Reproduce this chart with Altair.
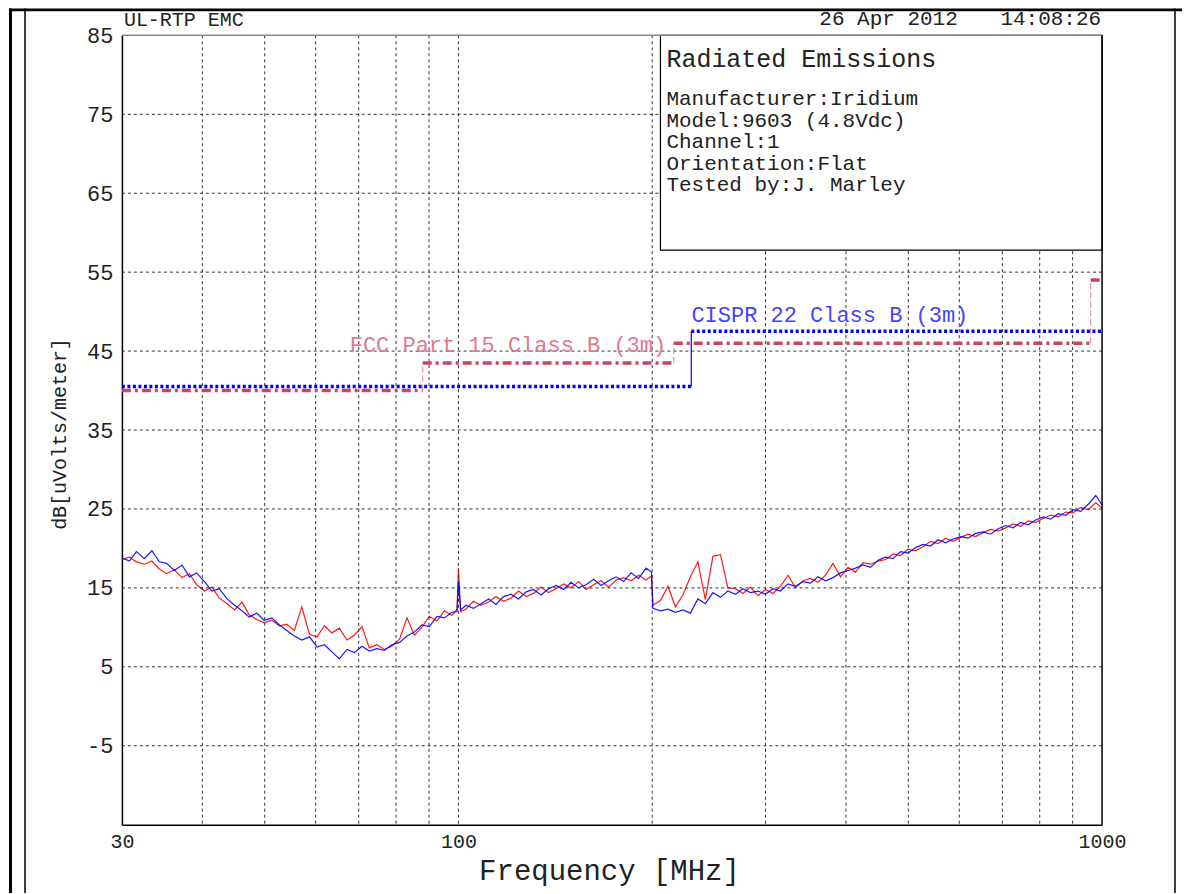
import altair as alt
import pandas as pd

FONT = "Liberation Mono"

# ---- measured traces (MHz, dBuV/m) ----
freq = [30, 30.8, 31.6, 32.5, 33.4, 34.3, 35.2, 36.2, 37.2, 38.2,
        39.2, 40.3, 41.4, 42.5, 43.7, 44.9, 46.1, 47.3, 48.6, 49.9,
        51.3, 52.7, 54.1, 55.6, 57.1, 58.7, 60.3, 61.9, 63.6, 65.3,
        67.1, 68.9, 70.8, 72.7, 74.7, 76.7, 78.8, 81.0, 83.2, 85.4,
        87.7, 90.1, 92.6, 95.1, 97.7, 99.5, 100, 100.8, 102.7, 105.5,
        108.4, 111.4, 114.4, 117.5, 120.7, 124, 127.4, 130.8, 134.4, 138,
        141.8, 145.7, 149.6, 153.7, 157.9, 162.2, 166.6, 171.1, 175.8, 180.6,
        185.5, 190.5, 195.7, 199.5, 200.5, 206, 211.6, 217.3, 223.2, 229.3,
        235.5, 241.9, 248.5, 255.3, 262.2, 269.4, 276.7, 284.2, 292, 299.9,
        308.1, 316.5, 325.1, 333.9, 343, 352.3, 361.9, 371.8, 381.9, 392.3,
        403, 413.9, 425.2, 436.8, 448.7, 460.9, 473.4, 486.3, 499.5, 513.1,
        527.1, 541.4, 556.2, 571.3, 586.9, 602.8, 619.3, 636.1, 653.4, 671.2,
        689.5, 708.2, 727.5, 747.3, 767.7, 788.6, 810.1, 832.1, 854.8, 878.1,
        902, 926.5, 951.8, 977.7, 1000]

blue = [18.8, 18.4, 19.6, 18.7, 19.7, 18.3, 18.1, 17.2, 17.9, 16.4,
        16.9, 15.8, 14.6, 14.9, 13.6, 12.8, 12.1, 11.3, 11.8, 10.9,
        11.2, 10.3, 9.6, 8.9, 8.4, 8.8, 7.5, 7.8, 6.9, 6.0,
        7.2, 6.8, 7.6, 7.0, 7.3, 7.1, 7.8, 8.1, 8.9, 9.4,
        10.3, 10.1, 11.4, 11.2, 11.9, 12.0, 15.8, 12.2, 12.8, 12.4,
        13.0, 13.6, 12.9, 13.9, 14.2, 13.6, 14.5, 14.8, 14.1, 14.9,
        15.3, 14.8, 15.7, 15.0, 15.4, 16.1, 15.3, 15.9, 16.4, 15.8,
        16.9, 16.2, 17.5, 17.0, 12.4, 12.1, 12.3, 11.9, 12.2, 11.8,
        13.6, 13.0, 14.4, 13.8, 14.6, 14.2, 14.9, 14.4, 14.6, 14.2,
        14.9, 14.6, 15.5, 15.2, 15.8, 15.6, 16.4, 15.9, 16.3, 16.9,
        17.2, 17.5, 17.9, 17.6, 18.5, 18.9, 18.7, 19.6, 19.4, 20.1,
        20.5, 20.3, 21.1, 20.7, 21.2, 21.5, 21.3, 21.9, 22.1, 21.8,
        22.5, 22.9, 22.6, 23.3, 23.0, 23.6, 24.0, 23.7, 24.4, 24.2,
        24.9, 24.7, 25.6, 26.7, 25.5]

red = [18.6, 18.9, 18.3, 18.0, 18.4, 17.4, 16.8, 17.3, 16.3, 16.8,
       15.4, 14.6, 15.1, 13.7, 13.0, 12.2, 13.2, 11.6, 11.0, 10.6,
       10.9, 10.2, 10.4, 9.6, 12.6, 9.1, 8.8, 10.2, 9.3, 9.9,
       8.4, 9.0, 10.1, 7.4, 7.8, 7.2, 7.6, 8.5, 11.2, 9.0,
       10.0, 11.4, 10.8, 12.1, 11.5, 12.3, 17.5, 12.0, 12.3, 13.3,
       12.8, 13.2, 13.9, 13.3, 13.7, 14.6, 13.9, 14.3, 15.1, 14.4,
       14.9, 15.5, 15.0, 15.8, 14.8, 15.4, 15.9, 15.1, 16.0, 16.3,
       15.9, 16.6, 16.0, 16.5, 12.8, 13.4, 15.2, 12.6, 14.1, 16.4,
       18.3, 13.5, 19.0, 19.2, 15.0, 14.9, 14.3, 15.1, 14.0, 14.8,
       14.3, 15.2, 16.6, 15.0, 15.9, 16.2, 15.7, 16.6, 18.1, 16.4,
       17.6, 17.0, 18.2, 18.0, 18.4, 18.6, 19.3, 19.1, 19.9, 19.7,
       20.2, 20.9, 20.6, 21.3, 20.9, 21.4, 21.8, 21.5, 22.0, 22.4,
       22.2, 22.6, 23.1, 22.8, 23.5, 23.3, 23.8, 24.2, 24.0, 24.6,
       24.5, 25.2, 24.9, 25.8, 25.1]

# ---- limit lines ----
cispr_start = [30, 230]
cispr_end = [230, 1000]
cispr_level = [40.5, 47.5]

fcc_start = [30, 88, 216, 960]
fcc_end = [88, 216, 960, 1000]
fcc_level = [40.0, 43.5, 46.0, 54.0]

# ---- grid / ticks ----
grid_freq = [40, 50, 60, 70, 80, 90, 100, 200, 300, 400, 500, 600, 700, 800, 900]
grid_db = [75, 65, 55, 45, 35, 25, 15, 5, -5]
y_ticks = [85, 75, 65, 55, 45, 35, 25, 15, 5, -5]
x_ticks = [30, 100, 1000]

info_lines = ["Manufacturer:Iridium", "Model:9603 (4.8Vdc)", "Channel:1",
              "Orientation:Flat", "Tested by:J. Marley"]

W, H = 981, 790
xs = alt.Scale(type="log", domain=[30, 1000], nice=False)
ys = alt.Scale(type="linear", domain=[-15, 85], nice=False)

XAX = alt.Axis(values=x_ticks, title=None, grid=False, ticks=False, labelFont=FONT,
               labelFontSize=20, labelColor="#222", labelPadding=7, labelFlush=False,
               labelOverlap=False, domainColor="black", domainWidth=1.5, format="d")
YAX = alt.Axis(values=y_ticks, title=None, grid=False, ticks=False, labelFont=FONT,
               labelFontSize=22, labelColor="#222", labelPadding=9, labelFlush=False,
               labelOverlap=False, domainColor="black", domainWidth=1.5,
               labelExpr="replace(format(datum.value, 'd'), '\u2212', '-')")

traces = pd.DataFrame({"f": freq, "blue": blue, "red": red})
cispr_h = pd.DataFrame({"f1": cispr_start, "f2": cispr_end, "v": cispr_level})
fcc_h = pd.DataFrame({"f1": fcc_start, "f2": fcc_end, "v": fcc_level})
cispr_v = pd.DataFrame({"f": cispr_start[1:], "lo": cispr_level[:-1], "hi": cispr_level[1:]})
fcc_v = pd.DataFrame({"f": fcc_start[1:], "lo": fcc_level[:-1], "hi": fcc_level[1:]})

def X(field):
    return alt.X(field, scale=xs, axis=XAX)

def Y(field):
    return alt.Y(field, scale=ys, axis=YAX)

gx = alt.Chart(pd.DataFrame({"f": grid_freq})).mark_rule(
    color="#333", strokeWidth=1, strokeDash=[3, 3]).encode(x=X("f:Q"))
gy = alt.Chart(pd.DataFrame({"d": grid_db})).mark_rule(
    color="#333", strokeWidth=1, strokeDash=[3, 3]).encode(y=Y("d:Q"))

def one(t):
    return alt.Chart(pd.DataFrame({"t": [t]}))

# info box
box = one("").mark_rect(fill="white", stroke="black", strokeWidth=1.2).encode(
    x=alt.value(539), x2=alt.value(W), y=alt.value(0), y2=alt.value(215))

red_line = alt.Chart(traces).mark_line(color="#FF0000", strokeWidth=1.2, opacity=0.9).encode(
    x=X("f:Q"), y=Y("red:Q"))
blue_line = alt.Chart(traces).mark_line(color="#0000FF", strokeWidth=1.2, opacity=0.9).encode(
    x=X("f:Q"), y=Y("blue:Q"))

fcc_hl = alt.Chart(fcc_h).mark_rule(color="#C8465F", strokeWidth=3.5, strokeDash=[9, 4, 3, 4]).encode(
    x=X("f1:Q"), x2="f2:Q", y=Y("v:Q"))
fcc_vl = alt.Chart(fcc_v).mark_rule(color="#E890A8", strokeWidth=1.2, strokeDash=[6, 3]).encode(
    x=X("f:Q"), y=Y("lo:Q"), y2="hi:Q")
cispr_hl = alt.Chart(cispr_h).mark_rule(color="#0000FF", strokeWidth=3.5, strokeDash=[3, 2.5]).encode(
    x=X("f1:Q"), x2="f2:Q", y=Y("v:Q"))
cispr_vl = alt.Chart(cispr_v).mark_rule(color="#0000FF", strokeWidth=1.2).encode(
    x=X("f:Q"), y=Y("lo:Q"), y2="hi:Q")

# plot borders (top gray, right black)
top_edge = one("").mark_rule(color="#888", strokeWidth=1.5).encode(
    x=alt.value(0), x2=alt.value(W), y=alt.value(0))
right_edge = one("").mark_rule(color="black", strokeWidth=1.5).encode(
    x=alt.value(W), y=alt.value(0), y2=alt.value(H))

# outer frame
frame_left = one("").mark_rule(color="black", strokeWidth=3).encode(
    x=alt.value(-111.5), y=alt.value(-27), y2=alt.value(H + 70))
frame_left2 = one("").mark_rule(color="black", strokeWidth=1.5).encode(
    x=alt.value(-97), y=alt.value(-27), y2=alt.value(H + 70))
frame_top = one("").mark_rule(color="black", strokeWidth=3).encode(
    x=alt.value(-113), x2=alt.value(W + 80), y=alt.value(-25.5))
frame_right = one("").mark_rule(color="black", strokeWidth=1.5).encode(
    x=alt.value(1054), y=alt.value(-27), y2=alt.value(H + 70))

def txt(t, x, y, size, color="#222", align="left", baseline="alphabetic", angle=0):
    kw = dict(font=FONT, fontSize=size, color=color, align=align, baseline=baseline)
    if angle:
        kw["angle"] = angle
    return one(t).mark_text(**kw).encode(text="t:N", x=alt.value(x), y=alt.value(y))

t_site = txt("UL-RTP EMC", 2, -9, 20)
t_date = txt("26 Apr 2012", 698, -10, 21)
t_time = txt("14:08:26", 980, -10, 21, align="right")
t_title = txt("Radiated Emissions", 545, 32, 25)
t_info = one("").mark_text(
    font=FONT, fontSize=21, color="#222", align="left", baseline="alphabetic",
    lineHeight=21.5).encode(text=alt.value(info_lines), x=alt.value(545), y=alt.value(70))
t_fcc = txt("FCC Part 15 Class B (3m)", 228, 317, 22, color="#E07890")
t_cispr = txt("CISPR 22 Class B (3m)", 570, 287, 22, color="#4444FF")
t_xtitle = txt("Frequency [MHz]", 488, 845, 29, align="center")
t_ytitle = txt("dB[uVolts/meter]", -62, 399, 20, align="center", baseline="middle", angle=270)

chart = alt.layer(
    red_line, gx, gy, box, blue_line, fcc_hl, fcc_vl, cispr_hl, cispr_vl,
    top_edge, right_edge, frame_left, frame_left2, frame_top, frame_right,
    t_site, t_date, t_time, t_title, t_info, t_fcc, t_cispr, t_xtitle, t_ytitle
).properties(
    width=W, height=H,
    autosize=alt.AutoSizeParams(type="none"),
    padding={"left": 114, "top": 27, "right": 80, "bottom": 68},
    background="white",
).configure_view(stroke=None)

chart.save("out.html", embed_options={"renderer": "svg", "actions": False})
